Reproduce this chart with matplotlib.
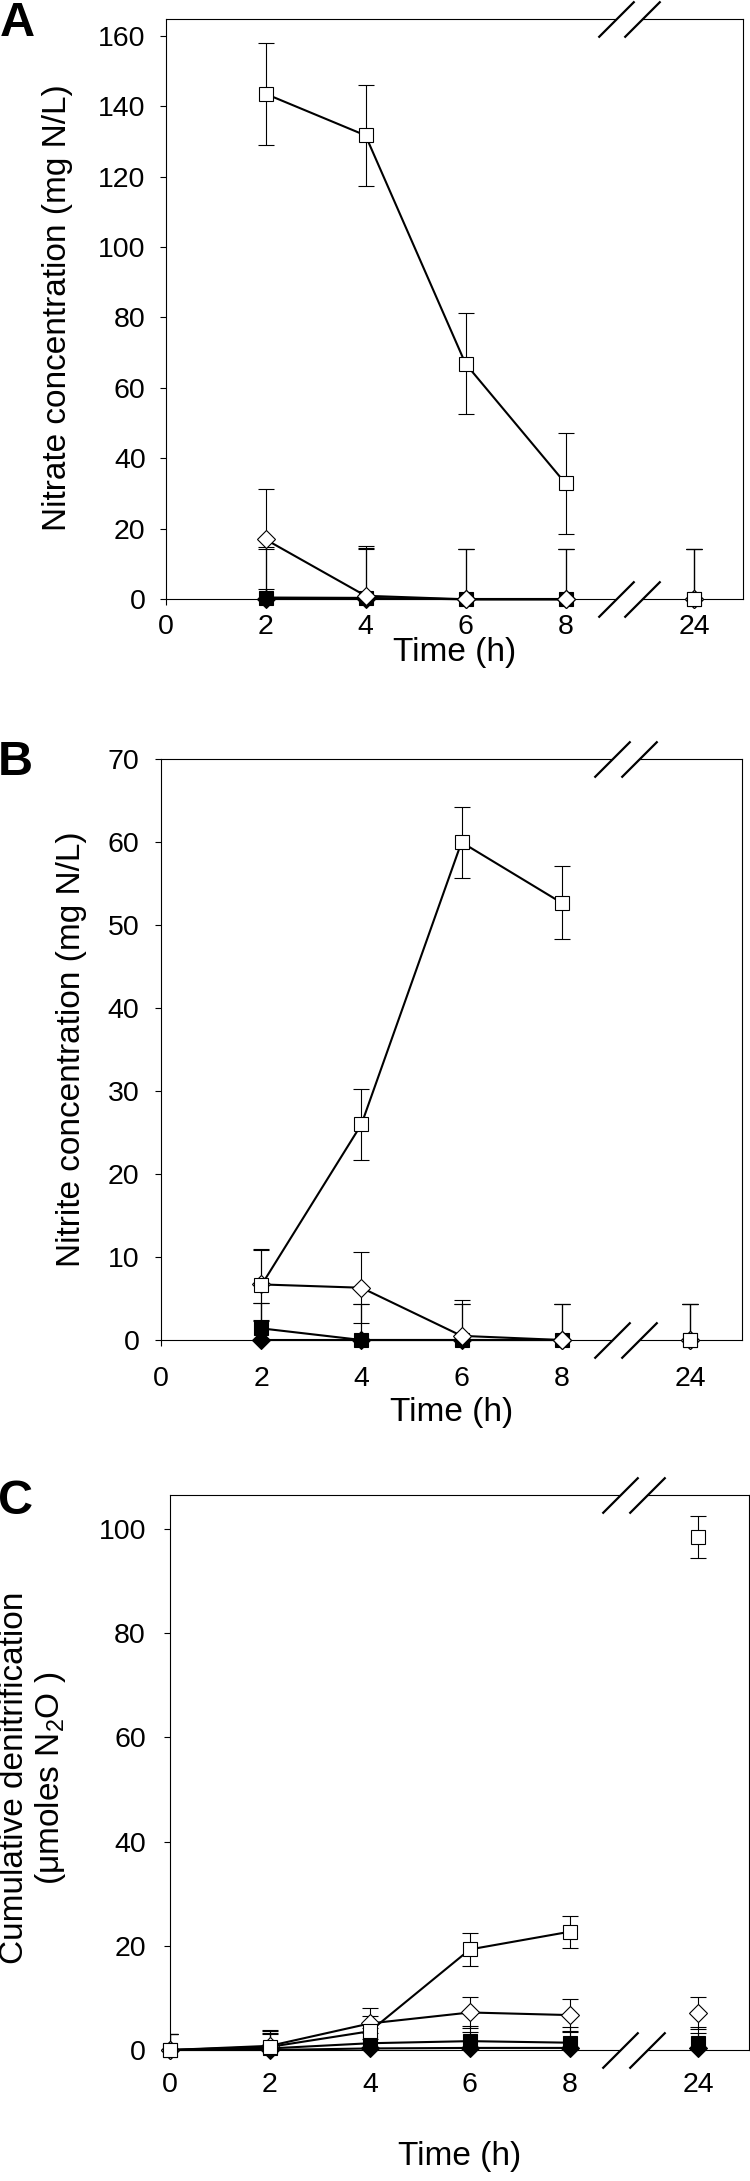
import numpy as np
import matplotlib
matplotlib.use('Agg')
import matplotlib.pyplot as plt

plt.rcParams['font.family'] = ['Liberation Sans', 'DejaVu Sans']
plt.rcParams['mathtext.fontset'] = 'custom'
plt.rcParams['mathtext.rm'] = 'Liberation Sans'
plt.rcParams['mathtext.it'] = 'Liberation Sans:italic'
plt.rcParams['mathtext.default'] = 'regular'

# sampling times (h)
times_ab = [2, 4, 6, 8, 24]
times_c = [0, 2, 4, 6, 8, 24]
time_ticks = [0, 2, 4, 6, 8, 24]
time_labels = ['0', '2', '4', '6', '8', '24']

# A - nitrate (mg N/L)
nitrate_open_sq = [143.5, 131.7, 66.9, 32.9, 0.0]
nitrate_open_sq_err = [14.4, 14.4, 14.3, 14.3, 14.3]
nitrate_open_dia = [17.0, 1.0, 0.0, 0.0, 0.0]
nitrate_open_dia_err = [14.2, 14.2, 14.3, 14.3, 14.3]
nitrate_fill_sq = [0.5, 0.4, 0.0, 0.0, 0.0]
nitrate_fill_sq_err = [14.3, 14.3, 14.3, 14.3, 14.3]
nitrate_fill_dia = [0.0, 0.0, 0.0, 0.0, 0.0]
nitrate_fill_dia_err = [14.3, 14.3, 14.3, 14.3, 14.3]

# B - nitrite (mg N/L)
nitrite_open_sq = [6.6, 26.0, 60.0, 52.7, 0.0]
nitrite_open_sq_err = [4.3, 4.3, 4.3, 4.4, 4.3]
nitrite_open_dia = [6.7, 6.3, 0.5, 0.0, 0.0]
nitrite_open_dia_err = [4.3, 4.3, 4.3, 4.3, 4.3]
nitrite_fill_sq = [1.4, 0.0, 0.0, 0.0, 0.0]
nitrite_fill_sq_err = [3.0, 4.3, 4.3, 4.3, 4.3]
nitrite_fill_dia = [0.0, 0.0, 0.0, 0.0, 0.0]
nitrite_fill_dia_err = [4.4, 4.3, 4.3, 4.3, 4.3]

# C - cumulative denitrification (umoles N2O)
n2o_open_sq = [0.0, 0.6, 3.6, 19.3, 22.7, 98.4]
n2o_open_sq_err = [3.0, 3.1, 3.0, 3.1, 3.1, 4.0]
n2o_open_dia = [0.0, 0.8, 5.1, 7.2, 6.7, 7.1]
n2o_open_dia_err = [3.0, 3.0, 3.0, 3.0, 3.1, 3.1]
n2o_fill_sq = [0.0, 0.3, 1.3, 1.7, 1.4, 1.4]
n2o_fill_sq_err = [3.0, 3.0, 3.0, 3.0, 3.0, 3.0]
n2o_fill_dia = [0.0, 0.0, 0.3, 0.4, 0.4, 0.3]
n2o_fill_dia_err = [3.0, 3.0, 3.0, 3.0, 3.0, 3.0]

# broken time axis: 0-8 h linear, then squeezed up to 24 h
BREAK = 9.27
SQUEEZE = (10.57 - BREAK) / (24 - BREAK)


def fwd(t):
    t = np.asarray(t, dtype=float)
    return np.where(t <= BREAK, t, BREAK + (t - BREAK) * SQUEEZE)


def inv(u):
    u = np.asarray(u, dtype=float)
    return np.where(u <= BREAK, u, BREAK + (u - BREAK) / SQUEEZE)


STYLES = {
    'fill_dia': dict(marker='D', ms=9.0, mfc='black', z=3),
    'fill_sq': dict(marker='s', ms=10.0, mfc='black', z=4),
    'open_dia': dict(marker='D', ms=9.0, mfc='white', z=5),
    'open_sq': dict(marker='s', ms=10.0, mfc='white', z=6),
}


def draw_series(ax, times, vals, errs, key):
    st = STYLES[key]
    t = np.array(times, dtype=float)
    v = np.array(vals, dtype=float)
    ax.errorbar(t, v, yerr=errs, fmt='none', ecolor='black', elinewidth=0.8,
                capsize=5.6, capthick=0.8, zorder=2)
    early = t <= 8
    ax.plot(t[early], v[early], color='black', lw=1.5, marker=st['marker'],
            ms=st['ms'], mfc=st['mfc'], mec='black', mew=0.8,
            clip_on=False, zorder=st['z'])
    ax.plot(t[~early], v[~early], linestyle='none', marker=st['marker'],
            ms=st['ms'], mfc=st['mfc'], mec='black', mew=0.8,
            clip_on=False, zorder=st['z'])


def draw_break(ax, xmax):
    xs = [9.0 / xmax, 9.54 / xmax]
    for y in (0, 1):
        ax.plot(xs, [y, y], transform=ax.transAxes, color='white', lw=3,
                solid_capstyle='butt', clip_on=False, zorder=7)
        ax.plot(xs, [y, y], transform=ax.transAxes, linestyle='none',
                marker=[(-1, -1), (1, 1)], ms=26, mec='black', mew=1.6,
                clip_on=False, zorder=8)


def setup_axes(ax, ymax, yticks, xmax, xpad, ypad):
    ax.set_xscale('function', functions=(fwd, inv))
    ax.set_xlim(0, float(inv(xmax)))
    ax.set_ylim(0, ymax)
    ax.set_xticks(time_ticks)
    ax.set_xticklabels(time_labels)
    ax.set_yticks(yticks)
    ax.minorticks_off()
    ax.tick_params(direction='out', length=4.3, width=0.8, labelsize=20.5,
                   top=False, right=False)
    ax.tick_params(axis='x', pad=xpad)
    ax.tick_params(axis='y', pad=ypad)
    for sp in ax.spines.values():
        sp.set_linewidth(0.8)
        sp.set_color('black')
    draw_break(ax, xmax)


W, H = 750.0, 2181.0
fig = plt.figure(figsize=(7.5, 21.81), dpi=100)


def px_axes(left, right, top, bottom):
    return fig.add_axes([left / W, 1 - bottom / H, (right - left) / W, (bottom - top) / H])


# A
axA = px_axes(165.5, 743.0, 19.0, 599.3)
for key, vals, errs in [('fill_dia', nitrate_fill_dia, nitrate_fill_dia_err),
                        ('fill_sq', nitrate_fill_sq, nitrate_fill_sq_err),
                        ('open_dia', nitrate_open_dia, nitrate_open_dia_err),
                        ('open_sq', nitrate_open_sq, nitrate_open_sq_err)]:
    draw_series(axA, times_ab, vals, errs, key)
setup_axes(axA, 164.74, np.arange(0, 161, 20), 11.55, 6.5, 10)

# B
axB = px_axes(161.3, 741.7, 759.3, 1340.0)
for key, vals, errs in [('fill_dia', nitrite_fill_dia, nitrite_fill_dia_err),
                        ('fill_sq', nitrite_fill_sq, nitrite_fill_sq_err),
                        ('open_dia', nitrite_open_dia, nitrite_open_dia_err),
                        ('open_sq', nitrite_open_sq, nitrite_open_sq_err)]:
    draw_series(axB, times_ab, vals, errs, key)
setup_axes(axB, 70, np.arange(0, 71, 10), 11.6, 14.5, 11.5)

# C
axC = px_axes(170.0, 748.8, 1495.0, 2050.0)
for key, vals, errs in [('fill_dia', n2o_fill_dia, n2o_fill_dia_err),
                        ('fill_sq', n2o_fill_sq, n2o_fill_sq_err),
                        ('open_dia', n2o_open_dia, n2o_open_dia_err),
                        ('open_sq', n2o_open_sq, n2o_open_sq_err)]:
    draw_series(axC, times_c, vals, errs, key)
setup_axes(axC, 106.5, np.arange(0, 101, 20), 11.58, 11.5, 13)

# axis titles
fig.text(57.4 / W, 1 - 308 / H, 'Nitrate concentration (mg N/L)', rotation=90,
         ha='center', va='center', fontsize=24)
fig.text(454.3 / W, 1 - 653 / H, 'Time (h)', ha='center', va='center', fontsize=24)
fig.text(71.8 / W, 1 - 1049 / H, 'Nitrite concentration (mg N/L)', rotation=90,
         ha='center', va='center', fontsize=24)
fig.text(451.5 / W, 1 - 1412 / H, 'Time (h)', ha='center', va='center', fontsize=24)
fig.text(33.5 / W, 1 - 1778 / H, 'Cumulative denitrification\n(μmoles N$_2$O )',
         rotation=90, ha='center', va='center', multialignment='center',
         fontsize=24, linespacing=1.15)
fig.text(459.4 / W, 1 - 2157 / H, 'Time (h)', ha='center', va='center', fontsize=24)

# panel letters
fig.text(0.0, 1 - 36 / H, 'A', fontsize=35, fontweight='bold', ha='left', va='baseline')
fig.text(-2 / W, 1 - 775 / H, 'B', fontsize=35, fontweight='bold', ha='left', va='baseline')
fig.text(-2 / W, 1 - 1514 / H, 'C', fontsize=35, fontweight='bold', ha='left', va='baseline')

fig.savefig('out.png', dpi=100)
plt.close(fig)
